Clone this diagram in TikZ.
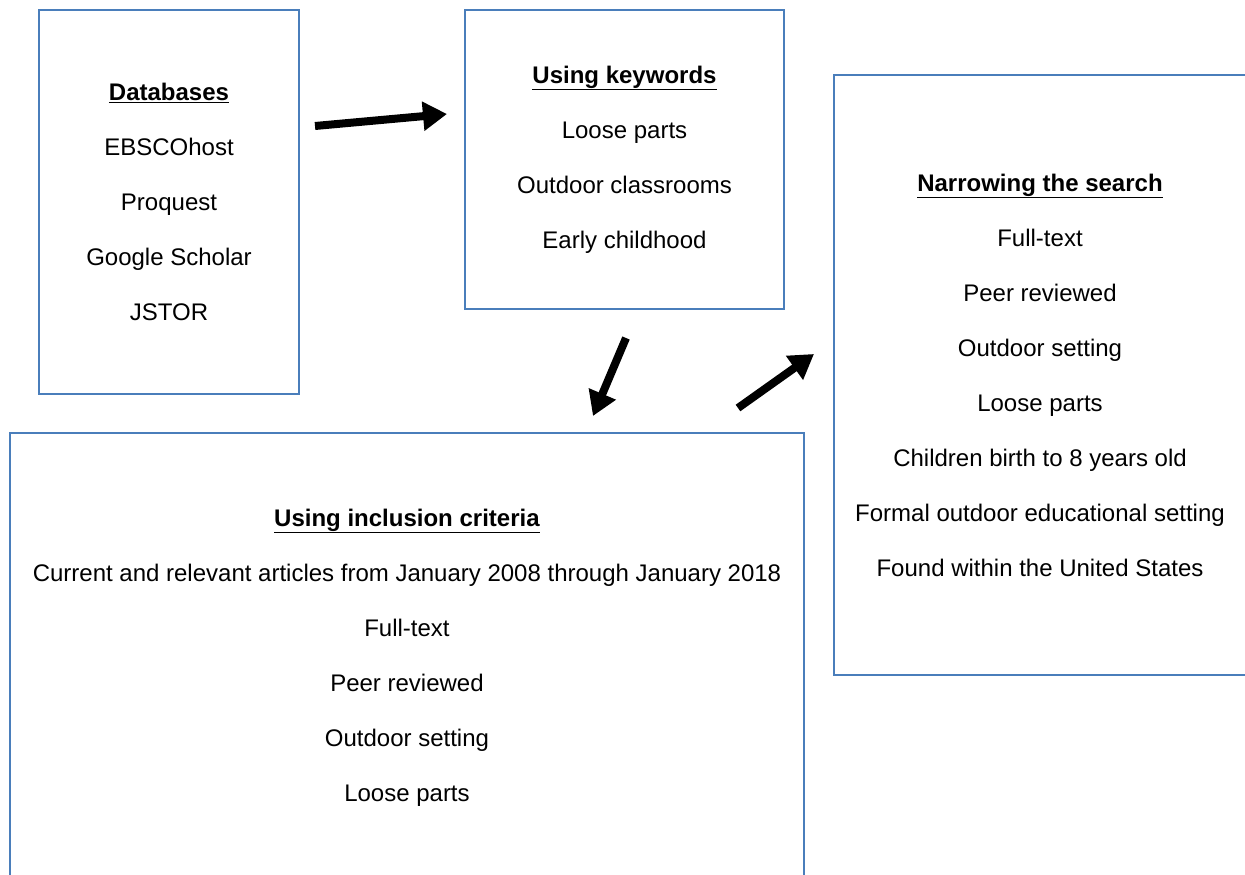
\documentclass[tikz,border=0pt]{standalone}
\usepackage{fontspec}
\setmainfont{Liberation Sans}
\definecolor{boxblue}{RGB}{74,126,187}
\usepackage{tikz}
\usetikzlibrary{arrows.meta,positioning}

\tikzset{
  stagebox/.style={draw=boxblue, line width=2pt, align=center, inner sep=0pt,
                   font=\fontsize{24}{55}\selectfont},
  flowarrow/.style={line width=8pt, -{Triangle[length=24pt,width=28pt]}}
}
\newcommand{\boxhead}[1]{\underline{\textbf{#1}}}

\begin{document}
\begin{tikzpicture}[x=1pt, y=-1pt]
    \useasboundingbox (0,0) rectangle (1245,875);
    \clip (0,0) rectangle (1245,875);
    % the four search stages
    \node[stagebox, minimum width=260pt, minimum height=384pt] (dbbox) at (169,202) {
      \boxhead{Databases}\\ EBSCOhost\\ Proquest\\ Google Scholar\\ JSTOR};
    \node[stagebox, minimum width=319pt, minimum height=299pt] (keybox) at (624.5,159.5) {
      \boxhead{Using keywords}\\ Loose parts\\ Outdoor classrooms\\ Early childhood};
    \node[stagebox, minimum width=412pt, minimum height=600pt] (narrowbox) at (1040,375) {
      \boxhead{Narrowing the search}\\ Full-text\\ Peer reviewed\\ Outdoor setting\\
      Loose parts\\ Children birth to 8 years old\\ Formal outdoor educational setting\\
      Found within the United States};
    \node[stagebox, minimum width=794pt, minimum height=449pt] (inclbox) at (407,657.5) {
      \boxhead{Using inclusion criteria}\\
      Current and relevant articles from January 2008 through January 2018\\
      Full-text\\ Peer reviewed\\ Outdoor setting\\ Loose parts};
    % free arrows between the stages
    \coordinate (dbout) at (315,126);
    \coordinate (keyin) at (447,114);
    \coordinate (keyout) at (626,338);
    \coordinate (inclin) at (593,416);
    \coordinate (inclout) at (738,408);
    \coordinate (narrowin) at (814,354);
    \draw[flowarrow] (dbout) -- (keyin);
    \draw[flowarrow] (keyout) -- (inclin);
    \draw[flowarrow] (inclout) -- (narrowin);
  \end{tikzpicture}
\end{document}
